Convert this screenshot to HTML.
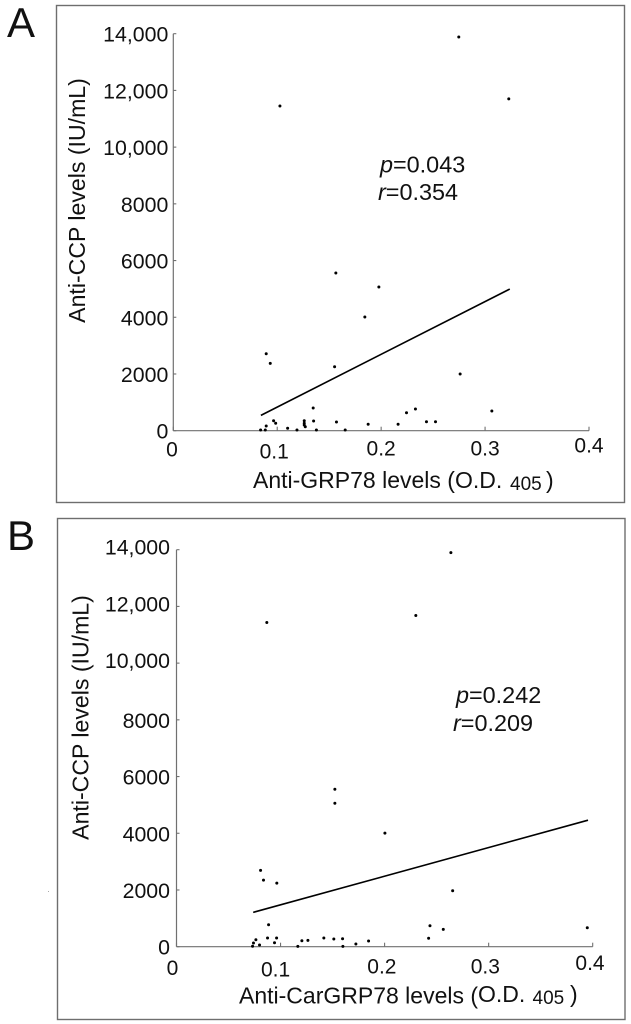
<!DOCTYPE html>
<html lang="en">
<head>
<meta charset="utf-8">
<title>Anti-CCP correlation scatter plots</title>
<style>
html,body{margin:0;padding:0;background:#fff;width:631px;height:1024px;overflow:hidden}
svg{display:block}
text{font-family:"Liberation Sans",Arial,sans-serif;fill:#111}
</style>
</head>
<body>
<svg id="figure" width="631" height="1024" viewBox="0 0 631 1024" xmlns="http://www.w3.org/2000/svg">
  <rect x="56.5" y="5.5" width="568" height="497" fill="none" stroke="#6e6e6e" stroke-width="1.4"/>
  <rect x="57.5" y="518.5" width="567.5" height="501" fill="none" stroke="#6e6e6e" stroke-width="1.4"/>
  <text x="7" y="37" font-size="42">A</text>
  <text x="7" y="550" font-size="42">B</text>
  <rect x="48" y="891" width="1" height="1" fill="#aaa"/>

  <text transform="translate(85,200.5) rotate(-90)" text-anchor="middle" font-size="23.1">Anti-CCP levels (IU/mL)</text>
  <text font-size="23"><tspan x="253" y="488">Anti-GRP78 levels (O.D.</tspan><tspan x="510" y="490" font-size="19">405</tspan><tspan x="546" y="488">)</tspan></text>
  <text x="380" y="172.5" font-size="23.4"><tspan font-style="italic">p</tspan>=0.043</text>
  <text x="378" y="200" font-size="23.4"><tspan font-style="italic">r</tspan>=0.354</text>

  <text transform="translate(88.3,717.5) rotate(-90)" text-anchor="middle" font-size="23.1">Anti-CCP levels (IU/mL)</text>
  <text font-size="23"><tspan x="239" y="1003.3">Anti-CarGRP78 levels (</tspan><tspan dy="-1.5">O.D.</tspan><tspan x="532.5" y="1004" font-size="19">405</tspan><tspan x="570" y="1002">)</tspan></text>
  <text x="456" y="703" font-size="23.4"><tspan font-style="italic">p</tspan>=0.242</text>
  <text x="453" y="731" font-size="23.4"><tspan font-style="italic">r</tspan>=0.209</text>
</svg>
<script>
const yTickValues = [0, 2000, 4000, 6000, 8000, 10000, 12000, 14000];
const yTickLabels = ["0", "2000", "4000", "6000", "8000", "10,000", "12,000", "14,000"];
const xTickValues = [0, 0.1, 0.2, 0.3, 0.4];
const xTickLabels = ["0", "0.1", "0.2", "0.3", "0.4"];

const panelAGrp78 = [0.0894, 0.0933, 0.1552, 0.276, 0.3065, 0.1346, 0.233, 0.2244, 0.2436, 0.2523, 0.157, 0.135, 0.1875, 0.2163, 0.126, 0.126, 0.126, 0.127, 0.11, 0.0965, 0.0985, 0.0894, 0.084, 0.0885, 0.119, 0.1377, 0.1654, 0.2747, 0.3228, 0.1026, 0.1564, 0.1978, 0.1843];
const panelACcp = [2715, 2376, 2257, 2000, 695, 800, 765, 635, 317, 317, 307, 342, 226, 226, 353, 261, 200, 140, 85, 353, 261, 166, 25, 25, 25, 25, 25, 13882, 11700, 11450, 5560, 5067, 4009];
const panelAFitX = [0.0843, 0.3238];
const panelAFitY = [541, 4996];

const panelBCarGrp78 = [0.0808, 0.0836, 0.0964, 0.2654, 0.3948, 0.0885, 0.2436, 0.2564, 0.2423, 0.0875, 0.0962, 0.0942, 0.0763, 0.074, 0.0731, 0.0798, 0.1166, 0.1205, 0.1263, 0.1416, 0.1512, 0.1596, 0.1599, 0.1724, 0.1846, 0.2637, 0.23, 0.0868, 0.1522, 0.1522, 0.2003];
const panelBCcp = [2690, 2348, 2243, 1972, 669, 775, 740, 613, 296, 306, 306, 141, 246, 130, 14, 60, 10, 211, 225, 306, 271, 282, 10, 95, 200, 13898, 11680, 11433, 5553, 5060, 4004];
const panelBFitX = [0.0737, 0.3955];
const panelBFitY = [1211, 4461];

const svgNS = "http://www.w3.org/2000/svg";
const svgRoot = document.getElementById("figure");

function makeEl(tag) {
  const el = document.createElementNS(svgNS, tag);
  svgRoot.appendChild(el);
  return el;
}

function drawPanel(id, left, right, top, bottom, xs, ys, fitX, fitY, nudge) {
  const xScale = function (v) { return left + (v / 0.4) * (right - left); };
  const yScale = function (v) { return bottom - (v / 14000) * (bottom - top); };

  const yAxis = makeEl("line");
  
  
  yAxis.setAttribute("x1", left);
  yAxis.setAttribute("x2", left);
  yAxis.setAttribute("y1", yScale(14000));
  yAxis.setAttribute("y2", yScale(0));
  yAxis.setAttribute("stroke", "#707070");
  yAxis.setAttribute("stroke-width", "1.2");

  const xAxis = makeEl("line");
  
  
  xAxis.setAttribute("x1", xScale(0));
  xAxis.setAttribute("x2", xScale(0.4));
  xAxis.setAttribute("y1", yScale(0));
  xAxis.setAttribute("y2", yScale(0));
  xAxis.setAttribute("stroke", "#707070");
  xAxis.setAttribute("stroke-width", "1.2");

  yTickValues.forEach(function (v, i) {
    const tick = makeEl("line");
    
    
    tick.setAttribute("x1", left);
    tick.setAttribute("x2", left + 3);
    tick.setAttribute("y1", yScale(v));
    tick.setAttribute("y2", yScale(v));
    tick.setAttribute("stroke", "#707070");
    tick.setAttribute("stroke-width", "1.1");

    const label = makeEl("text");
    
    
    label.setAttribute("x", left + nudge.yLabelX);
    label.setAttribute("y", yScale(v) + (v >= 10000 ? nudge.yLabelHigh : 8));
    label.setAttribute("text-anchor", "end");
    label.setAttribute("font-size", "21.3");
    label.textContent = yTickLabels[i];
  });

  xTickValues.forEach(function (v, i) {
    const tick = makeEl("line");
    
    
    tick.setAttribute("x1", xScale(v));
    tick.setAttribute("x2", xScale(v));
    tick.setAttribute("y1", yScale(0));
    tick.setAttribute("y2", yScale(0) - 4);
    tick.setAttribute("stroke", "#707070");
    tick.setAttribute("stroke-width", "1.1");

    const label = makeEl("text");
    
    
    label.setAttribute("x", xScale(v) + nudge.xLabelX[i]);
    label.setAttribute("y", yScale(0) + nudge.xLabelY[i]);
    label.setAttribute("text-anchor", "middle");
    label.setAttribute("font-size", "21");
    label.textContent = xTickLabels[i];
  });

  xs.forEach(function (v, i) {
    const dot = makeEl("circle");
    
    
    dot.setAttribute("cx", xScale(v));
    dot.setAttribute("cy", yScale(ys[i]));
    dot.setAttribute("r", "1.5");
    dot.setAttribute("fill", "#000");
  });

  const fit = makeEl("line");
  
  
  fit.setAttribute("x1", xScale(fitX[0]));
  fit.setAttribute("y1", yScale(fitY[0]));
  fit.setAttribute("x2", xScale(fitX[1]));
  fit.setAttribute("y2", yScale(fitY[1]));
  fit.setAttribute("stroke", "#000");
  fit.setAttribute("stroke-width", "1.6");
}

drawPanel("panel-a", 173.3, 589, 33.7, 430.7, panelAGrp78, panelACcp, panelAFitX, panelAFitY, {
  yLabelX: -5,
  yLabelHigh: 8,
  xLabelX: [-1.3, -3, 0, 0, 0],
  xLabelY: [26, 27.6, 25, 25, 21.6]
});
drawPanel("panel-b", 176.5, 592.7, 549.7, 946.7, panelBCarGrp78, panelBCcp, panelBFitX, panelBFitY, {
  yLabelX: -6.5,
  yLabelHigh: 5,
  xLabelX: [-4, -5, -2.7, -3.3, -2.7],
  xLabelY: [28.3, 29.6, 26.6, 26.6, 23.3]
});
</script>
</body>
</html>
